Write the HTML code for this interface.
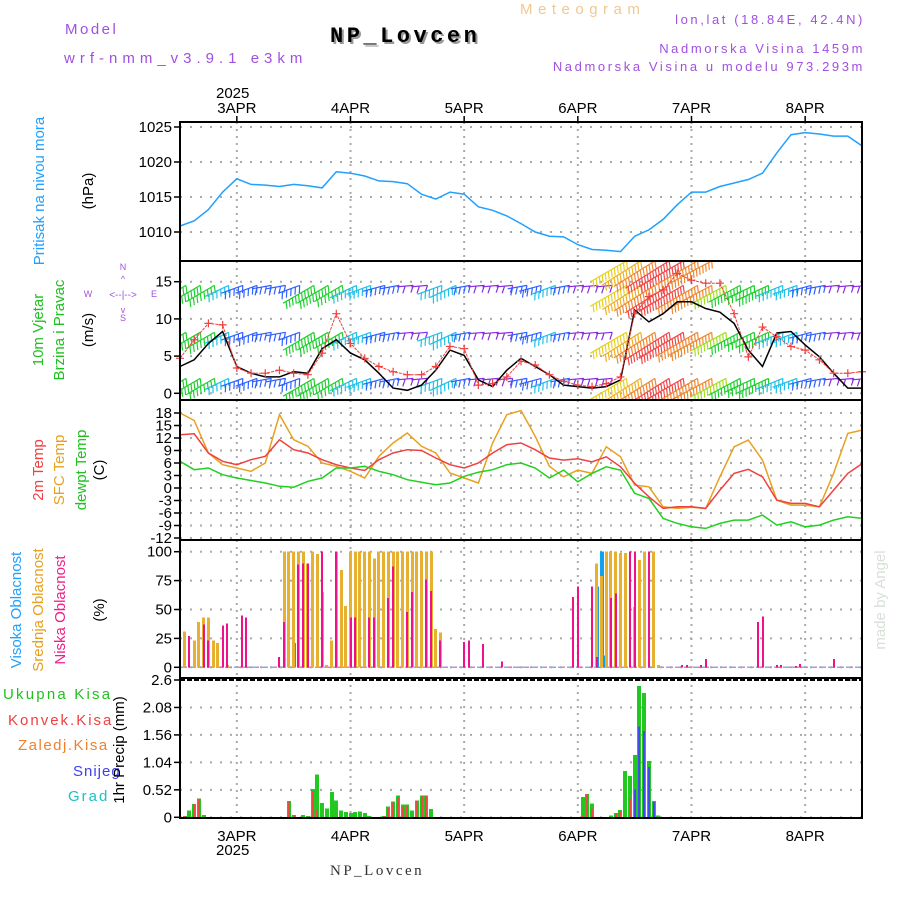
<!DOCTYPE html>
<html><head><meta charset="utf-8"><style>
html,body{margin:0;padding:0;background:#fff;}
svg{display:block;font-family:"Liberation Sans",sans-serif;}
</style></head><body>
<svg id="chart" width="900" height="900" viewBox="0 0 900 900">
<g id="hdr">
<text x="65" y="34" fill="#a050e0" font-size="15" letter-spacing="2.5">Model</text>
<text x="64" y="63" fill="#a050e0" font-size="15" letter-spacing="5">wrf-nmm_v3.9.1 e3km</text>
<text x="332" y="44" fill="#999" font-size="22" font-weight="bold" letter-spacing="3.5" font-family="Liberation Mono,monospace">NP_Lovcen</text>
<text x="330" y="42" fill="#000" font-size="22" font-weight="bold" letter-spacing="3.5" font-family="Liberation Mono,monospace">NP_Lovcen</text>
<text x="520" y="14" fill="#f0c890" font-size="15" letter-spacing="5.5">Meteogram</text>
<text x="865" y="24" fill="#a050e0" font-size="13" text-anchor="end" letter-spacing="2.6">lon,lat (18.84E, 42.4N)</text>
<text x="865" y="53" fill="#a050e0" font-size="13" text-anchor="end" letter-spacing="2.6">Nadmorska Visina 1459m</text>
<text x="865" y="71" fill="#a050e0" font-size="13" text-anchor="end" letter-spacing="2.6">Nadmorska Visina u modelu 973.293m</text>
<text x="216" y="98" fill="#000" font-size="15">2025</text>
<text x="216" y="855" fill="#000" font-size="15">2025</text>
<text x="330" y="875" fill="#333" font-size="15" letter-spacing="2.5" font-family="Liberation Serif,serif">NP_Lovcen</text>
<text transform="translate(885,600) rotate(-90)" fill="#d8e0d8" font-size="15" text-anchor="middle">made by Angel</text>
</g>
<g id="labels" font-size="15">
<text transform="translate(44,191) rotate(-90)" fill="#20a0ff" text-anchor="middle">Pritisak na nivou mora</text>
<text transform="translate(93,191) rotate(-90)" fill="#000" text-anchor="middle">(hPa)</text>
<text transform="translate(43,330) rotate(-90)" fill="#20c020" text-anchor="middle">10m Vjetar</text>
<text transform="translate(64,330) rotate(-90)" fill="#20c020" text-anchor="middle">Brzina i Pravac</text>
<text transform="translate(93,330) rotate(-90)" fill="#000" text-anchor="middle">(m/s)</text>
<g fill="#a050e0" font-size="9" text-anchor="middle">
<text x="123" y="270">N</text><text x="123" y="321">S</text><text x="88" y="297">W</text><text x="154" y="297">E</text>
<text x="123" y="298" font-size="10">&lt;--|--&gt;</text>
<text x="123" y="282" font-size="9">^</text><text x="123" y="313" font-size="9">v</text>
</g>
<text transform="translate(43,470) rotate(-90)" fill="#f04040" text-anchor="middle">2m Temp</text>
<text transform="translate(64,470) rotate(-90)" fill="#e8a020" text-anchor="middle">SFC Temp</text>
<text transform="translate(86,470) rotate(-90)" fill="#20c020" text-anchor="middle">dewpt Temp</text>
<text transform="translate(104,470) rotate(-90)" fill="#000" text-anchor="middle">(C)</text>
<text transform="translate(21,610) rotate(-90)" fill="#20a0ff" text-anchor="middle">Visoka Oblacnost</text>
<text transform="translate(43,610) rotate(-90)" fill="#e8a020" text-anchor="middle">Srednja Oblacnost</text>
<text transform="translate(65,610) rotate(-90)" fill="#f0208a" text-anchor="middle">Niska Oblacnost</text>
<text transform="translate(104,610) rotate(-90)" fill="#000" text-anchor="middle">(%)</text>
<text x="3" y="699" fill="#20c020" letter-spacing="2.2">Ukupna Kisa</text>
<text x="8" y="725" fill="#f04040" letter-spacing="2">Konvek.Kisa</text>
<text x="18" y="750" fill="#f08030" letter-spacing="1.5">Zaledj.Kisa</text>
<text x="73" y="776" fill="#4040f0" letter-spacing="1">Snijeg</text>
<text x="68" y="801" fill="#20c0c0" letter-spacing="2">Grad</text>
<text transform="translate(124,750) rotate(-90)" fill="#000" text-anchor="middle">1hr Precip (mm)</text>
</g>
</svg>
<script>
// ---- data (hours from 2 Apr 12:00, step 3h) ----
const hours3 = [0,3,6,9,12,15,18,21,24,27,30,33,36,39,42,45,48,51,54,57,60,63,66,69,72,75,78,81,84,87,90,93,96,99,102,105,108,111,114,117,120,123,126,129,132,135,138,141,144];
const dayLabels = ["3APR","4APR","5APR","6APR","7APR","8APR"];
const dayHours = [12,36,60,84,108,132];
const pressure = [1010.85,1011.6,1013.2,1015.7,1017.6,1016.8,1016.7,1016.5,1016.8,1016.6,1016.3,1018.6,1018.4,1018.0,1017.3,1017.2,1016.9,1015.4,1014.7,1015.7,1015.4,1013.6,1013.1,1012.3,1011.2,1010.0,1009.4,1009.3,1008.2,1007.5,1007.4,1007.2,1009.4,1010.3,1011.8,1013.9,1015.7,1015.7,1016.5,1017.0,1017.5,1018.4,1021.3,1023.9,1024.2,1024.0,1023.7,1023.7,1022.3];
const windSpeed = [3.6,4.5,6.7,8.3,3.6,2.7,2.2,2.2,2.9,2.7,6.0,7.2,5.4,4.5,2.7,0.7,0.4,1.1,3.1,5.8,5.1,1.8,0.9,3.1,4.7,3.6,2.5,1.1,0.9,0.7,0.9,1.8,11.2,9.6,10.7,12.3,12.3,11.4,10.9,9.4,5.8,3.6,8.1,8.3,6.5,4.9,2.7,0.7,0.7];
const windGust = [4.7,7.2,9.4,9.2,3.4,2.7,2.7,3.1,2.7,2.5,5.4,10.7,6.7,4.7,3.6,2.9,2.5,2.5,3.6,6.3,6.0,1.1,1.3,2.2,4.3,3.8,2.5,1.6,1.1,0.9,1.3,2.2,10.7,13.0,13.9,16.1,15.2,14.8,14.8,10.7,4.9,8.9,7.6,6.3,5.8,4.5,2.7,2.7,2.9];
const barbSpeed = [8,8,7,5,4,4,3,3,4,8,8,7,6,5,4,3,2,2,5,6,3,2,2,2,3,4,5,3,2,2,2,10,11,12,13,13,12,12,9,8,7,8,6,5,4,3,2,2,2];
const barbDir = [150,150,150,155,160,160,170,170,160,150,150,150,155,160,165,170,175,175,160,155,170,175,175,175,170,165,160,170,175,175,175,150,148,148,148,150,150,152,152,152,155,155,158,160,165,170,175,175,175];
const temp2m = [12.8,13.0,8.4,6.4,5.6,6.8,7.6,11.6,9.2,8.4,6.8,5.6,4.8,4.2,6.8,8.4,9.2,9.0,7.2,5.6,4.8,6.0,8.4,10.4,10.8,9.2,7.2,6.7,7.0,6.3,7.5,5.1,1.1,-2.1,-4.9,-4.5,-4.5,-4.9,-0.5,3.5,4.5,2.7,-2.9,-3.7,-3.7,-4.5,-0.5,3.5,5.8];
const tempSfc = [18.0,16.2,8.4,5.6,4.8,4.0,6.0,17.6,11.6,10.0,6.0,5.2,4.0,2.4,7.6,10.8,13.2,10.0,8.4,3.6,2.4,1.2,10.8,17.6,18.6,12.4,5.2,2.7,4.3,3.5,9.9,7.5,0.7,0.3,-4.5,-4.9,-4.6,-4.9,2.7,9.9,11.5,6.7,-2.9,-4.1,-4.1,-4.5,3.5,13.1,13.9];
const tempDew = [6.4,4.4,4.8,3.2,2.4,1.8,1.2,0.4,0.2,1.6,2.4,4.8,4.8,5.2,4.0,3.2,2.0,1.4,0.8,1.2,2.8,3.8,4.4,5.6,6.0,4.8,2.4,4.3,1.5,3.5,5.1,4.3,-1.3,-2.5,-7.3,-8.5,-9.3,-9.7,-8.5,-7.7,-7.7,-6.5,-8.9,-8.1,-9.3,-8.9,-7.7,-6.9,-7.3];
const midCloudHours = [1,3,4,5,6,7,8,10,22,23,24,25,26,27,28,29,30,31,32,33,34,35,36,37,38,39,40,41,42,43,44,45,46,47,48,49,50,51,52,53,54,55,88,89,90,91,92,93,94,96,97,98,100,101];
const midCloud = [31,23,39,43,43,23,21,2,100,100,100,100,100,90,100,98,65,2,23,100,84,53,100,100,100,100,100,94,100,100,100,100,100,100,100,100,100,100,100,100,33,30,90,79,100,100,100,99,99,52,93,100,100,2];
const lowCloudHours = [2,5,6,9,10,13,14,21,22,25,26,27,30,33,36,37,40,41,44,45,48,49,52,53,55,60,61,64,68,83,84,87,88,91,92,95,96,99,106,107,110,111,122,123,126,127,130,131,138];
const lowCloud = [27,37,23,36,38,45,43,9,39,89,90,90,100,100,43,43,43,43,60,87,48,65,76,66,23,22,23,20,5,61,70,70,9,60,64,100,100,100,2,2,2,7,39,44,2,2,1,3,7];
const highCloudHours = [24,88,89,90];
const highCloud = [21,70,100,10];
const precipHours = [1,2,3,4,5,23,24,26,27,28,29,30,31,32,33,34,35,36,37,38,39,40,43,44,45,46,47,48,49,50,51,52,53,85,86,87,91,92,93,94,95,96,97,98,99,100,101];
const precipTotal = [0.02,0.13,0.25,0.36,0.04,0.31,0.04,0.04,0.02,0.54,0.81,0.27,0.17,0.48,0.32,0.13,0.10,0.08,0.10,0.11,0.08,0.02,0.02,0.20,0.30,0.41,0.24,0.24,0.13,0.32,0.41,0.41,0.16,0.38,0.44,0.26,0.03,0.08,0.14,0.88,0.78,1.18,2.49,2.35,1.07,0.31,0.03];
const precipConv = [0.02,0,0.25,0.36,0,0.31,0.04,0,0,0.50,0.15,0,0,0,0,0,0,0,0,0,0,0,0.02,0.18,0.28,0.38,0.20,0.22,0,0.32,0.41,0.41,0,0.02,0.44,0.17,0,0.08,0.10,0,0.36,0,0,0,0,0,0];
const precipSnow = [0,0,0,0,0,0,0,0,0,0,0,0,0,0,0,0,0,0,0,0,0,0,0,0,0,0,0,0,0,0,0,0,0,0,0,0,0,0,0,0,0,0.53,1.72,1.63,0.95,0.29,0];
const pTicks = [1010,1015,1020,1025];
const wTicks = [0,5,10,15];
const tTicks = [-12,-9,-6,-3,0,3,6,9,12,15,18];
const cTicks = [0,25,50,75,100];
const rTicks = [0,0.52,1.04,1.56,2.08,2.6];
const rTickLabels = ["0","0.52","1.04","1.56","2.08","2.6"];

// ---- geometry ----
const L=180,R=862;
const X=h=>L+h*(R-L)/144;
const lin=(v0,y0,v1,y1)=>v=>y0+(v-v0)*(y1-y0)/(v1-v0);
const panels=[
 {name:'pressure',top:122,bot:261,y:lin(1010,232,1025,127),ticks:pTicks,labels:pTicks.map(String)},
 {name:'wind',top:261,bot:400,y:lin(0,393.3,15,281.7),ticks:wTicks,labels:wTicks.map(String)},
 {name:'temperature',top:400,bot:540,y:lin(0,488,18,413),ticks:tTicks,labels:tTicks.map(String)},
 {name:'cloud',top:540,bot:678,y:lin(0,667.3,100,551.7),ticks:cTicks,labels:cTicks.map(String)},
 {name:'precip',top:678,bot:818,y:lin(0,817.3,2.6,680),ticks:rTicks,labels:rTickLabels}
];
const svg=document.getElementById('chart');
const NS='http://www.w3.org/2000/svg';
function mk(tag,at,parent){const e=document.createElementNS(NS,tag);for(const k in at)e.setAttribute(k,at[k]);(parent||svg).appendChild(e);return e;}

// grids and axes
panels.forEach(p=>{
 const g=mk('g',{});
 
 
 dayHours.forEach(h=>{const ln=mk('line',{x1:X(h),x2:X(h),y1:p.top,y2:p.bot,stroke:'#aaa','stroke-width':2,'stroke-dasharray':'2,5'},g);
  });
 p.ticks.forEach((t,i)=>{const yy=p.y(t);
  const ln=mk('line',{x1:L,x2:R,y1:yy,y2:yy,stroke:'#aaa','stroke-width':2,'stroke-dasharray':'2,8'},g);
  
  mk('line',{x1:L-6,x2:L,y1:yy,y2:yy,stroke:'#000','stroke-width':1.5},g);
  const tx=mk('text',{x:L-8,y:yy+5,'text-anchor':'end','font-size':15,fill:'#000'},g);tx.textContent=p.labels[i];
  });
 p.g=g;
});
// day labels
dayHours.forEach((h,i)=>{
 [108,836].forEach(yy=>{const t=mk('text',{x:X(h),y:yy+5,'text-anchor':'middle','font-size':15,fill:'#000'});t.textContent=dayLabels[i];
  });
 mk('line',{x1:X(h),x2:X(h),y1:116,y2:122,stroke:'#000','stroke-width':1.5});
});
function poly(vals,yf,color,name,w){const pts=vals.map((v,i)=>X(hours3[i]).toFixed(1)+','+yf(v).toFixed(1)).join(' ');
 const e=mk('polyline',{points:pts,fill:'none',stroke:color,'stroke-width':w||1.5});
 return e;}

// pressure
poly(pressure,panels[0].y,'#20a0ff','pressure-line');

// wind barbs
const wy=panels[1].y;
function spdColor(s){const c=[[2,'#8a2be2'],[4,'#3060ff'],[6,'#20c0e8'],[8,'#20d030'],[9,'#a0e020'],[10,'#e8d020'],[11,'#f0b020'],[12,'#f08830'],[13,'#f04848']];
 for(const [v,col] of c) if(s<=v) return col; return '#f04848';}
const barbs=mk('g',{'stroke-width':1.2,fill:'none'});


const clip=mk('clipPath',{id:'wclip'});mk('rect',{x:L,y:262,width:R-L,height:137},clip);
barbs.setAttribute('clip-path','url(#wclip)');
barbSpeed.forEach((s,i)=>{
 const levels=s>=10?[17.8,14.5,8.2,2]:[14.5,8.2,2];
 levels.forEach(lv=>{
  const x0=X(hours3[i])+6,y0=wy(lv),a=barbDir[i]*Math.PI/180,len=10+3.2*s;
  const dx=Math.cos(a),dy=Math.sin(a),col=spdColor(s);
  let d='M'+x0.toFixed(1)+','+y0.toFixed(1)+'l'+(dx*len).toFixed(1)+','+(dy*len).toFixed(1);
  const n=Math.max(2,Math.round(s*1.2));
  for(let k=0;k<n;k++){const f=k*len/n;const px=x0+dx*f,py=y0+dy*f;
   d+='M'+px.toFixed(1)+','+py.toFixed(1)+'l'+(dy*7+dx*3).toFixed(1)+','+(-dx*7+dy*3).toFixed(1);}
  const e=mk('path',{d:d,stroke:col},barbs);
  
 });
});
poly(windSpeed,wy,'#000','wind-speed-line');
poly(windGust,wy,'#f04040','wind-gust-line',1).setAttribute('stroke-dasharray','3,1');
windGust.forEach((v,i)=>{const x=X(hours3[i]),y=wy(v);
 const e=mk('path',{d:`M${x-4},${y}h8M${x},${y-4}v8`,stroke:'#f04040','stroke-width':1.2});
 });

// temperature
const ty=panels[2].y;
poly(tempSfc,ty,'#e8a020','sfc-temp-line');
poly(temp2m,ty,'#f04040','temp-2m-line');
poly(tempDew,ty,'#20d020','dewpoint-line');

// cloud
const cy=panels[3].y;
mk('line',{x1:L,x2:R,y1:cy(0),y2:cy(0),stroke:'#80b0e0','stroke-width':1.5,'stroke-dasharray':'5,4'});
mk('line',{x1:L+4,x2:R,y1:cy(0),y2:cy(0),stroke:'#e080b0','stroke-width':1.5,'stroke-dasharray':'3,6'});
function bars(hs,vals,yf,color,w,off,name){vals.forEach((v,i)=>{if(v<=0)return;const x=Math.round(X(hs[i])+off-w/2),y=yf(v),y0=yf(0);
 const e=mk('rect',{x:x,y:y.toFixed(1),width:w,height:Math.max(0.5,y0-y).toFixed(1),fill:color,'shape-rendering':'crispEdges'});
 });}
bars(highCloudHours,highCloud,cy,'#10a0f0',4,0,'high-cloud-bar');
bars(midCloudHours,midCloud,cy,'#e8b030',3,0,'mid-cloud-bar');
bars(lowCloudHours,lowCloud,cy,'#f0108a',2,0,'low-cloud-bar');

// precip
const ry=panels[4].y;
mk('line',{x1:L,x2:R,y1:ry(2.6),y2:ry(2.6),stroke:'#000','stroke-width':2,'stroke-dasharray':'5,2'});
bars(precipHours,precipTotal,ry,'#20c820',4,0,'precip-total-bar');
bars(precipHours,precipConv,ry,'#f04848',2,0,'precip-conv-bar');
bars(precipHours,precipSnow,ry,'#4848f0',2,0,'precip-snow-bar');

// panel frames
panels.forEach(p=>{const e=mk('rect',{x:L,y:p.top,width:R-L,height:p.bot-p.top,fill:'none',stroke:'#000','stroke-width':2});
 });
</script>
</body></html>
